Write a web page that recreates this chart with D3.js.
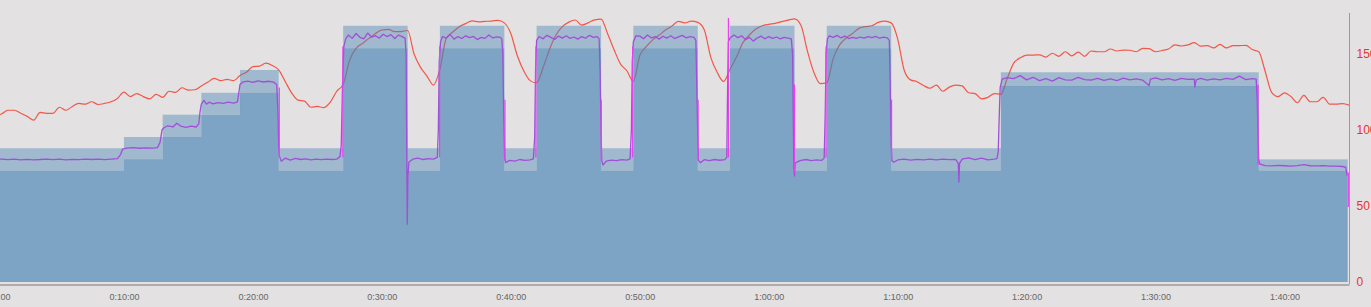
<!DOCTYPE html>
<html>
<head>
<meta charset="utf-8">
<script src="https://cdnjs.cloudflare.com/ajax/libs/d3/7.8.5/d3.min.js"></script>
<style>
  html, body { margin: 0; padding: 0; background: #e3e1e2; overflow: hidden; }
  svg { display: block; }
  .xaxis text { font: 9px "Liberation Sans", Arial, sans-serif; fill: #666; }
  .yaxis text { font: 12px "Liberation Sans", Arial, sans-serif; fill: #e8342c; }
  .xaxis path, .yaxis path { stroke: #9a9a9a; }
</style>
</head>
<body>
<script>
// workout blocks (minutes) and their target band, in axis units
const blockStart = [0, 10, 13, 16, 19, 22, 27, 32, 34.5, 39.5, 42, 47, 49.5, 54.5, 57, 62, 64.5, 69.5, 78, 98];
const blockEnd   = [10, 13, 16, 19, 22, 27, 32, 34.5, 39.5, 42, 47, 49.5, 54.5, 57, 62, 64.5, 69.5, 78, 98, 104.9];
const targetLow  = [73.2, 80.7, 95.4, 110.1, 124.5, 73.2, 153.8, 73.2, 153.8, 73.2, 153.8, 73.2, 153.8, 73.2, 153.8, 73.2, 153.8, 73.2, 128.9, 73.2];
const targetHigh = [88, 95.4, 110.1, 124.5, 139.5, 88, 168.6, 88, 168.6, 88, 168.6, 88, 168.6, 88, 168.6, 88, 168.6, 88, 138, 80.7];

// heart rate, one sample every half minute from 0:00:00
const hrStep = 0.5;
const heartRate = [
  109.5, 110.5, 113, 113, 111, 109, 106.5, 111.6, 111, 111,
  115, 113, 115.5, 117.5, 117, 118.6, 116.8, 117.5, 118.6, 120.8,
  125, 122, 124, 122, 120.5, 123.5, 121.5, 125.5, 124.8, 127.8,
  126.3, 126.5, 129, 131.4, 134, 132.5, 133.3, 132.5, 135.8, 138,
  141.7, 142, 144, 142.5, 139.5, 132, 124.5, 119.7, 119, 115,
  115.5, 114.8, 118.3, 125.5, 130, 146, 153.7, 157, 160.3, 163.4,
  165.8, 166.2, 164.7, 164.8, 165.5, 150, 141.2, 135.5, 129.6, 140,
  160.5, 164.5, 168, 170, 171.8, 171.2, 171.5, 171.7, 172.2, 170.5,
  163.5, 149, 139, 132.5, 131, 141, 153, 162.5, 168, 171,
  172.4, 169, 170.5, 172.5, 173, 163.5, 153, 143.5, 139, 132,
  149, 154.8, 159.3, 162.5, 165.8, 168.5, 171.5, 170.5, 171.7, 170.8,
  166, 148, 138, 132, 140, 148, 157.5, 162.5, 166.4, 168.6,
  169.5, 170.2, 171.3, 172.3, 173.2, 169, 152, 138, 130.5, 131,
  147, 156, 160.5, 163.5, 166.9, 168, 168.6, 170.8, 171.7, 170.5,
  160, 139.5, 133, 131.8, 129.3, 127.5, 129.5, 125.5, 128.2, 129.5,
  129, 124.5, 124, 120.5, 121.5, 124, 123.5, 134, 144, 147.5,
  149.3, 149.3, 149.5, 148, 150.5, 148.5, 151.5, 148.8, 151.3, 148.5,
  152, 151.5, 151.5, 153.3, 152, 152.6, 152.5, 151.5, 153.7, 153.5,
  151.5, 152.3, 153.3, 156, 155.3, 156, 157.5, 155.2, 155.5, 154,
  156.3, 154, 155.5, 155.5, 155.7, 153, 151.5, 138.5, 124.8, 122,
  124.5, 122, 118, 122.8, 118.6, 118.6, 121.5, 117, 117, 117.4,
  116.4
];

// power trace as [minute, value]
const powerTrace = [
  [0,80.6],[0.5,80.9],[1,80.5],[1.5,80.8],[2,80.3],[2.5,80.7],[3,80.4],[3.5,80.6],[4,80.9],[4.5,80.5],
  [5,80.8],[5.5,80.4],[6,80.7],[6.5,80.5],[7,80.9],[7.5,80.6],[8,80.8],[8.5,80.5],[9,80.9],[9.5,81.2],
  [9.75,84],[9.9,87.5],[10.2,88.1],[10.7,88.4],[11.2,88],[11.7,88.3],[12.2,88.1],[12.6,88.4],[12.8,92],[12.95,100],
  [13.1,101.5],[13.4,102.8],[13.8,102],[14.1,104.5],[14.4,102.6],[14.8,101.8],[15.2,102.5],[15.6,102],[15.8,104],[15.9,112],
  [16.0,117],[16.2,119.5],[16.4,117],[16.6,118.3],[16.9,117.2],[17.3,118],[17.7,117.5],[18.1,118.3],[18.5,117.7],[18.8,118.5],
  [18.9,124],[19.0,130],[19.2,131.5],[19.6,132.2],[20,131.4],[20.4,132.3],[20.8,131.6],[21.2,132.1],[21.6,131.5],[21.85,130],
  [21.95,110],[22.0,90],[22.05,83],[22.2,79.5],[22.5,81.5],[22.9,80.2],[23.3,81.3],[23.7,80.6],[24.1,81],[24.5,80.4],
  [24.9,80.8],[25.3,80.5],[25.7,80.9],[26.1,80.6],[26.5,80.8],[26.75,82.5],[26.85,90],[26.95,130],[27.05,155],[27.2,160],
  [27.4,162.5],[27.7,160.3],[28,163.5],[28.3,161],[28.6,160],[28.9,163.8],[29.2,161.2],[29.5,162],[29.8,160.5],[30.1,163],
  [30.4,161.5],[30.7,162.8],[31,160.2],[31.3,162.5],[31.6,161.3],[31.8,160.5],[31.88,150],[31.93,90],[31.97,38],[32.02,70],
  [32.1,79],[32.4,80.8],[32.8,81.5],[33.2,80.6],[33.6,81.2],[34,80.9],[34.3,82],[34.38,100],[34.45,145],[34.55,158],
  [34.7,161.5],[35,160.5],[35.3,162.8],[35.6,159.8],[35.9,161.5],[36.2,160.2],[36.5,162],[36.8,160.8],[37.1,161.6],[37.4,159.5],
  [37.7,161],[38,160.3],[38.3,162.5],[38.6,160.6],[38.9,161.3],[39.2,160.9],[39.3,160],[39.38,150],[39.45,110],[39.52,82],
  [39.6,78.5],[39.9,80],[40.3,79.5],[40.7,80.6],[41.1,80],[41.5,80.4],[41.75,81],[41.85,95],[41.92,140],[42.0,159],
  [42.2,161.5],[42.5,160],[42.8,162.3],[43.1,161],[43.4,159.6],[43.7,161.8],[44,160.5],[44.3,162],[44.6,160.3],[44.9,161.2],
  [45.2,159.8],[45.5,161.5],[45.8,160.4],[46.1,162.3],[46.4,161],[46.7,161.5],[46.85,160],[46.92,140],[47.0,100],[47.05,80],
  [47.15,77],[47.4,79.5],[47.8,80.2],[48.2,79.8],[48.6,80.5],[49,80.2],[49.25,81],[49.35,100],[49.42,145],[49.5,158],
  [49.7,162],[50,161.8],[50.3,160],[50.6,162.5],[50.9,160.6],[51.2,161.5],[51.5,159.8],[51.8,161.7],[52.1,160.5],[52.4,162],
  [52.7,160.2],[53,161.3],[53.3,162.3],[53.6,160.7],[53.9,161.5],[54.2,161],[54.35,159],[54.42,130],[54.5,95],[54.55,80],
  [54.7,78.5],[55,80.5],[55.4,79.8],[55.8,80.6],[56.2,80.1],[56.6,80.5],[56.75,82],[56.8,120],[56.87,158],[57.0,160.5],
  [57.3,162.5],[57.6,160.8],[57.9,162],[58.2,159.5],[58.5,161],[58.8,158.5],[59.1,160.5],[59.4,161.8],[59.7,160],[60,161.5],
  [60.3,160.3],[60.6,161.2],[60.9,160],[61.2,161],[61.5,160.5],[61.75,160],[61.85,150],[61.9,110],[61.95,75],[62.0,69.7],
  [62.05,78],[62.2,79],[62.5,80],[62.9,80.6],[63.3,79.8],[63.7,80.4],[64.1,80],[64.3,81.5],[64.38,110],[64.45,150],
  [64.55,160],[64.7,162],[65,161],[65.3,162.3],[65.6,160.6],[65.9,161.8],[66.2,160.2],[66.5,161],[66.8,160.3],[67.1,161.2],
  [67.4,160.5],[67.7,161.5],[68,160.8],[68.3,161.6],[68.6,160.4],[68.9,161.2],[69.2,160.6],[69.35,159],[69.42,130],[69.5,90],
  [69.55,80],[69.7,78.8],[70,80.3],[70.5,80.8],[71,80.2],[71.5,80.7],[72,80.4],[72.5,80.9],[73,80.3],[73.5,80.8],
  [74,80.5],[74.5,80.6],[74.7,78],[74.75,65.8],[74.8,78],[75,80.8],[75.5,81.6],[76,80.5],[76.5,81.5],[77,80.4],
  [77.5,80.9],[77.7,81.2],[77.8,86],[77.88,110],[77.95,128],[78.1,133.5],[78.5,134.5],[79,133.8],[79.5,135.8],[80,133],
  [80.5,134.7],[81,132.5],[81.5,133.8],[82,132.2],[82.5,134.5],[83,133],[83.5,132.8],[84,134.6],[84.5,133.2],[85,132.9],
  [85.5,134],[86,132.7],[86.5,133.6],[87,132.5],[87.5,134.2],[88,133],[88.5,133.7],[89,132.8],[89.5,129.3],[89.6,133.5],
  [90,134.3],[90.5,133],[91,133.8],[91.5,132.6],[92,134],[92.5,133.3],[93,133.5],[93.05,128.3],[93.15,133],[93.5,134],
  [94,132.8],[94.5,133.6],[95,133],[95.5,134],[96,133.3],[96.5,135.5],[97,133.2],[97.5,133.8],[97.8,133.5],[97.88,120],
  [97.95,95],[98.0,80],[98.1,77.5],[98.5,76.6],[99,76.4],[99.5,76.7],[100,76.5],[100.5,76.3],[101,76.6],[101.5,77.2],
  [102,76.5],[102.5,76.4],[103,76.6],[103.5,76.3],[104,76.2],[104.5,76],[104.75,75.5],[104.85,70]
];

// fast swings of the second (magenta) power trace: minute, from, to
const swingTime = [22.0, 26.93, 34.43, 39.5, 41.9, 46.97, 49.4, 54.48, 56.83, 61.95, 64.4, 69.48, 97.9, 104.9];
const swingFrom = [128, 82, 82, 120, 82, 120, 82, 120, 82, 130, 82, 120, 130, 72];
const swingTo   = [82, 155, 155, 80, 155, 80, 155, 80, 173.7, 72, 155, 80, 77, 49.3];

const timeTicks = [0, 10, 20, 30, 40, 50, 60, 70, 80, 90, 100];
const hrTicks = [0, 50, 100, 150];

let width = 1371;
let height = 307;

let x = d3.scaleLinear().domain([0, 105]).range([-5, 1349]);
let y = d3.scaleLinear().domain([0, 177]).range([282, 13]);

let svg = d3.select("body").append("svg")
  .attr("width", width)
  .attr("height", height);

svg.append("rect")
  .attr("width", width)
  .attr("height", height)
  .attr("fill", "#e3e1e2");

// heart rate sits under the blocks
let hrData = heartRate.map((v, i) => ({t: i * hrStep, v: v}));
svg.append("path")
  .datum(hrData)
  .attr("fill", "none")
  .attr("stroke", "#f2574a")
  .attr("stroke-width", 1.2)
  .attr("d", d3.line().curve(d3.curveMonotoneX).x(d => x(d.t)).y(d => y(d.v)));

// blocks
let blocks = blockStart.map((s, i) => ({start: s, end: blockEnd[i], low: targetLow[i], high: targetHigh[i]}));
let floorPts = blocks.flatMap(b => [[b.start, b.low], [b.end, b.low]]);

svg.append("path")
  .datum(floorPts)
  .attr("fill", "rgb(70,130,180)")
  .attr("fill-opacity", 0.65)
  .attr("d", d3.area().x(d => x(d[0])).y0(y(0)).y1(d => y(d[1])));

svg.selectAll(".band")
  .data(blocks)
  .enter().append("rect")
  .attr("class", "band")
  .attr("x", d => x(d.start))
  .attr("width", d => x(d.end) - x(d.start))
  .attr("y", d => y(d.high))
  .attr("height", d => y(d.low) - y(d.high))
  .attr("fill", "rgb(70,130,180)")
  .attr("fill-opacity", 0.42);

// power
svg.append("path")
  .datum(powerTrace)
  .attr("fill", "none")
  .attr("stroke", "#a04fd8")
  .attr("stroke-width", 1.3)
  .attr("stroke-linejoin", "round")
  .attr("d", d3.line().x(d => x(d[0])).y(d => y(d[1])));

svg.selectAll(".swing")
  .data(swingTime)
  .enter().append("line")
  .attr("class", "swing")
  .attr("x1", d => x(d) + 0.6)
  .attr("x2", d => x(d) + 0.6)
  .attr("y1", (d, i) => y(swingFrom[i]))
  .attr("y2", (d, i) => y(swingTo[i]))
  .attr("stroke", "#ec3ff0")
  .attr("stroke-width", 1.2);

// axes
let fmt = t => `${Math.floor(t / 60)}:${String(t % 60).padStart(2, "0")}:00`;

svg.append("g")
  .attr("class", "xaxis")
  .attr("transform", `translate(0,${y(0) + 2.5})`)
  .call(d3.axisBottom(x).tickValues(timeTicks).tickFormat(fmt).tickSize(0).tickPadding(9))
  .call(g => g.select(".domain").attr("stroke-width", 1.5));

svg.append("g")
  .attr("class", "yaxis")
  .attr("transform", `translate(${x(105) + 0.5},0)`)
  .call(d3.axisRight(y).tickValues(hrTicks).tickSize(0).tickPadding(7))
  .call(g => g.select(".domain").attr("d", `M0,${y(177)}V${y(0) + 2}`));
</script>
</body>
</html>
